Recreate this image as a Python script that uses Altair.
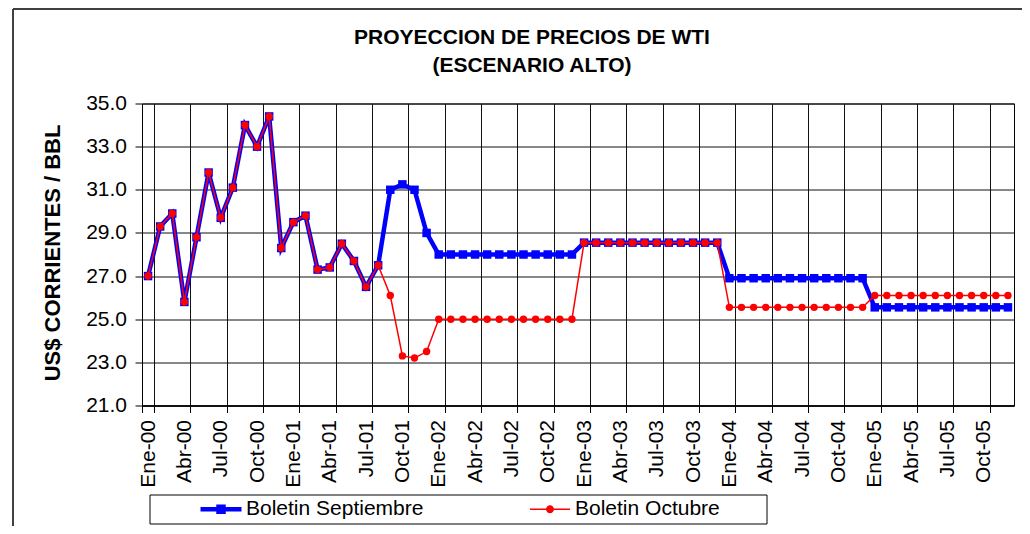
import altair as alt
import pandas as pd

# ---------------- data ----------------
month_abbr = ["Ene", "Feb", "Mar", "Abr", "May", "Jun", "Jul", "Ago", "Sep", "Oct", "Nov", "Dic"]
years = ["00", "01", "02", "03", "04", "05"]
months = [f"{m}-{y}" for y in years for m in month_abbr]
tick_months = months[::3]

series_names = ["Boletin Septiembre", "Boletin Octubre"]
series_colors = ["#0000FF", "#FF0000"]

boletin_septiembre = [
    27.0, 29.3, 29.9, 25.8, 28.8, 31.8, 29.7, 31.1, 34.0, 33.0, 34.4, 28.3,
    29.5, 29.8, 27.3, 27.4, 28.5, 27.7, 26.5, 27.5, 31.0, 31.25, 31.0, 29.0,
    28.0, 28.0, 28.0, 28.0, 28.0, 28.0, 28.0, 28.0, 28.0, 28.0, 28.0, 28.0,
    28.55, 28.55, 28.55, 28.55, 28.55, 28.55, 28.55, 28.55, 28.55, 28.55, 28.55, 28.55,
    26.9, 26.9, 26.9, 26.9, 26.9, 26.9, 26.9, 26.9, 26.9, 26.9, 26.9, 26.9,
    25.55, 25.55, 25.55, 25.55, 25.55, 25.55, 25.55, 25.55, 25.55, 25.55, 25.55, 25.55,
]
boletin_octubre = [
    27.0, 29.3, 29.9, 25.8, 28.8, 31.8, 29.7, 31.1, 34.0, 33.0, 34.4, 28.3,
    29.5, 29.8, 27.3, 27.4, 28.5, 27.7, 26.5, 27.5, 26.1, 23.3, 23.2, 23.5,
    25.0, 25.0, 25.0, 25.0, 25.0, 25.0, 25.0, 25.0, 25.0, 25.0, 25.0, 25.0,
    28.55, 28.55, 28.55, 28.55, 28.55, 28.55, 28.55, 28.55, 28.55, 28.55, 28.55, 28.55,
    25.55, 25.55, 25.55, 25.55, 25.55, 25.55, 25.55, 25.55, 25.55, 25.55, 25.55, 25.55,
    26.1, 26.1, 26.1, 26.1, 26.1, 26.1, 26.1, 26.1, 26.1, 26.1, 26.1, 26.1,
]
y_ticks = [21, 23, 25, 27, 29, 31, 33, 35]

title_lines = ["PROYECCION DE PRECIOS DE WTI", "(ESCENARIO ALTO)"]
y_title = "US$ CORRIENTES / BBL"

df = pd.DataFrame({
    "month": months * 2,
    "value": boletin_septiembre + boletin_octubre,
    "series": [series_names[0]] * len(months) + [series_names[1]] * len(months),
})

FONT = "Liberation Sans"
W, H = 872, 302

# legend symbol paths (line + marker)
sq_path = "M-4.1,-0.45H4.1V0.45H-4.1Z M-0.95,-0.95H0.95V0.95H-0.95Z"
ci_path = "M-4,-0.17H4V0.17H-4Z M-0.8,0A0.8,0.8 0 1,1 0.8,0A0.8,0.8 0 1,1 -0.8,0Z"

x_scale = alt.Scale(type="band", domain=months, paddingInner=0, paddingOuter=0)
y_scale = alt.Scale(domain=[21, 35], nice=False, zero=False)

x_axis = alt.Axis(
    values=tick_months, tickBand="extent", labelAngle=270, labelPadding=7,
    tickSize=7, tickColor="black", grid=True, gridColor="#111111", gridWidth=1,
    domainColor="black", domainWidth=1.5, labelFont=FONT, labelFontSize=21,
    labelColor="black", title=None, labelAlign="right", labelBaseline="middle",
)
y_axis = alt.Axis(
    values=y_ticks, format=".1f", tickSize=7, tickColor="black", grid=True,
    gridColor="#111111", gridWidth=1, domainColor="black", labelFont=FONT,
    labelFontSize=21, labelColor="black", labelPadding=8.5,
    title=y_title, titleFont=FONT, titleFontSize=22, titleFontWeight="bold",
    titleColor="black", titleX=-89.5, titleY=149, titleAngle=270,
    titleAlign="center", titleBaseline="middle",
)

X = alt.X("month:N", sort=months, scale=x_scale, bandPosition=0.5, axis=x_axis)
Y = alt.Y("value:Q", scale=y_scale, axis=y_axis)

base = alt.Chart(df)
sept_f = alt.datum.series == series_names[0]
oct_f = alt.datum.series == series_names[1]

blue_line = base.transform_filter(sept_f).mark_line(color=series_colors[0], strokeWidth=4.5).encode(x=X, y=Y)
blue_pts = base.transform_filter(sept_f).mark_point(
    shape="square", filled=True, size=72, color=series_colors[0], opacity=1
).encode(x=X, y=Y)
red_line = base.transform_filter(oct_f).mark_line(color=series_colors[1], strokeWidth=1.5).encode(x=X, y=Y)
red_pts = base.transform_filter(oct_f).mark_point(
    shape="circle", filled=True, size=55, color=series_colors[1], opacity=1
).encode(x=X, y=Y)

legend = alt.Legend(
    orient="none", legendX=7.5, legendY=391, direction="horizontal",
    title="\u00a0", titleOrient="right", titlePadding=42.5, titleFontSize=8,
    titleLineHeight=8,
    padding=4, symbolSize=100, symbolStrokeWidth=0, symbolOffset=57,
    labelOffset=14.5, columnPadding=59, labelFont=FONT, labelFontSize=21,
    labelColor="black", labelLimit=400, strokeColor="black", fillColor="white",
    symbolOpacity=1,
)
legend_layer = base.mark_point(filled=True, opacity=0).encode(
    x=X, y=Y,
    color=alt.Color("series:N", scale=alt.Scale(domain=series_names, range=series_colors), legend=legend),
    shape=alt.Shape("series:N", scale=alt.Scale(domain=series_names, range=[sq_path, ci_path]), legend=legend),
)

frame_data = alt.Chart(pd.DataFrame({"k": [0]}))
frame_v = frame_data.mark_rule(color="#404040", strokeWidth=2).encode(
    x=alt.value(-129), y=alt.value(-94.5), y2=alt.value(H + 140)
)
frame_h = frame_data.mark_rule(color="#404040", strokeWidth=2).encode(
    x=alt.value(-129), x2=alt.value(W + 30), y=alt.value(-94.5)
)

chart = alt.layer(blue_line, blue_pts, red_line, red_pts, legend_layer, frame_v, frame_h).properties(
    width=W, height=H,
    background="white",
    title=alt.TitleParams(
        text=title_lines, font=FONT, fontSize=21, fontWeight="bold", color="black",
        anchor="middle", frame="group", dx=-46, offset=-68, lineHeight=28.3,
    ),
    autosize=alt.AutoSizeParams(type="none"),
    padding={"left": 134, "top": 95.5, "right": 8, "bottom": 120.5},
).configure_view(stroke="black", strokeWidth=1)

chart.save("out.html", embed_options={"renderer": "svg", "actions": False})
